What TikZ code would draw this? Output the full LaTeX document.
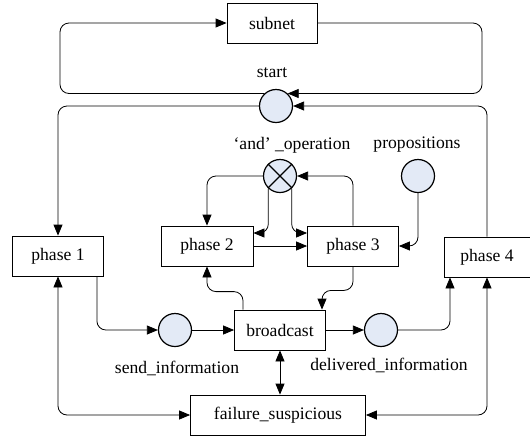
\documentclass[tikz,border=0pt]{standalone}
\usepackage{fontspec}
\setmainfont{Liberation Serif}
\usetikzlibrary{arrows.meta}
\definecolor{placefill}{RGB}{227,234,246}
\tikzset{
  x=1pt, y=-1pt,
  every node/.style={font=\fontsize{17.6}{20}\selectfont},
  box/.style={draw, line width=0.8pt, minimum height=40pt, inner sep=0pt},
  place/.style={draw, circle, line width=1.2pt, fill=placefill, minimum size=33pt, inner sep=0pt},
  lbl/.style={inner sep=0pt},
  conn/.style={line width=0.8pt, rounded corners=9pt},
  arr/.style={conn, -{Triangle[length=11pt,width=9pt]}},
  darr/.style={conn, {Triangle[length=11pt,width=9pt]}-{Triangle[length=11pt,width=9pt]}}
}
\begin{document}
\begin{tikzpicture}
\useasboundingbox (0,0) rectangle (530,437);
% nodes
\node[box, minimum width=90pt] (subnet) at (272,23) {subnet};
\node[place] (start) at (276,106) {};
\node[lbl] (startl) at (272,73) {start};
\node[box, minimum width=91pt] (p1) at (58,256) {phase 1};
\node[box, minimum width=92pt] (p2) at (207,246) {phase 2};
\node[box, minimum width=91pt] (p3) at (353,246) {phase 3};
\node[box, minimum width=86pt] (p4) at (487,257) {phase 4};
\node[place] (and) at (280,176) {};
\draw[line width=1.2pt] (and.45) -- (and.225) (and.135) -- (and.315);
\node[lbl] (andl) at (292,145) {‘and’ \_operation};
\node[place] (prop) at (418,176) {};
\node[lbl] (propl) at (417,145) {propositions};
\node[place] (send) at (175,330) {};
\node[lbl] (sendl) at (177,368) {send\_information};
\node[box, minimum width=91pt] (bc) at (280,330) {broadcast};
\node[place] (deliv) at (381,330) {};
\node[lbl] (delivl) at (389,365) {delivered\_information};
\node[box, minimum width=175pt] (fail) at (278,415) {failure\_suspicious};
\coordinate (tl) at (60,23);
\coordinate (tr) at (482,23);
% top loop
\draw[arr] (start.133) -| (tl) -- (subnet.west);
\draw[arr] (subnet.east) -- (tr) |- (start.47);
% inner loop
\draw[arr] (start.west) -| (p1.north);
\draw[arr] (p4.north) |- (start.east);
% and operation
\draw[arr] (and.west) -| (p2.north);
\draw[arr] (and.227) |- ([yshift=13pt]p2.east);
\draw[arr] (and.313) |- ([yshift=13pt]p3.west);
\draw[arr] (p3.north) |- (and.east);
\draw[arr] (p2.east) -- (p3.west);
\draw[arr] (prop.south) |- (p3.east);
% broadcast path
\draw[arr] ([xshift=-7pt]p1.south east) |- (send.west);
\draw[arr] (send.east) -- (bc.west);
\draw[arr] (bc.east) -- (deliv.west);
\draw[arr] (deliv.east) -| ([xshift=-37pt]p4.south);
\draw[arr] ([xshift=-37pt]bc.north) -- ++(0,-18) -| (p2.south);
\draw[arr] (p3.south) -- ++(0,24) -| ([xshift=42pt]bc.north);
% failure
\draw[darr] (bc.south) -- (bc.south |- fail.north);
\draw[darr] (p1.south) |- (fail.west);
\draw[darr] (p4.south) |- (fail.east);
\end{tikzpicture}
\end{document}
